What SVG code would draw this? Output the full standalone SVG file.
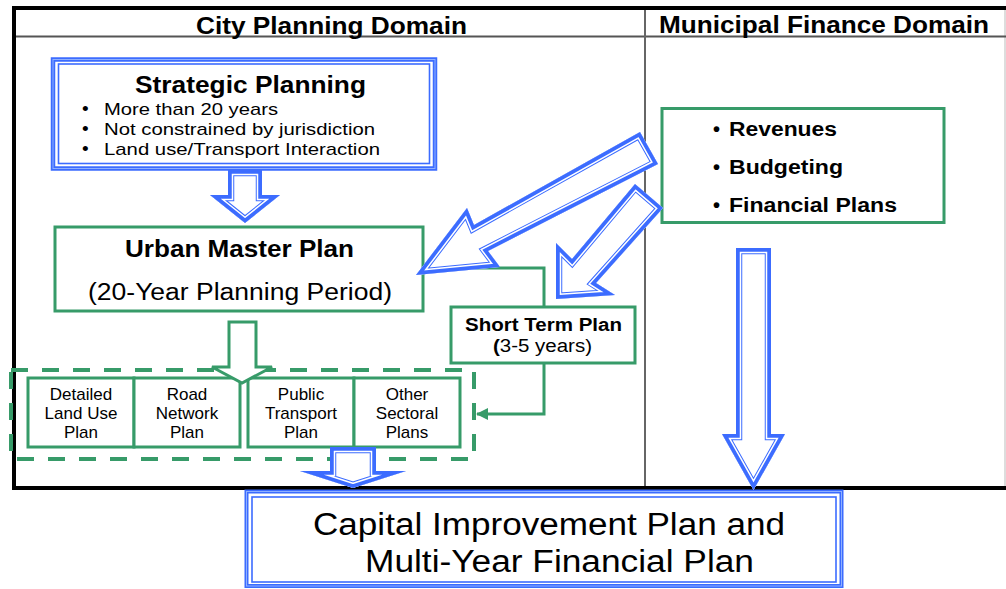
<svg xmlns="http://www.w3.org/2000/svg" xmlns:xlink="http://www.w3.org/1999/xlink" width="1006" height="589" viewBox="0 0 1006 589">
<defs>
<style>
text{font-family:"Liberation Sans",Arial,sans-serif;fill:#000}
.b{font-weight:bold}
.hd{font-size:23px;font-weight:bold}
.g{fill:none;stroke:#379b69;stroke-width:3}
.gw{fill:#fff;stroke:#379b69;stroke-width:3}
.s1{fill:#fff;stroke:#3c6cff;stroke-width:12.5;stroke-linejoin:miter}
.s2{fill:none;stroke:#fff;stroke-width:10.5;stroke-linejoin:miter}
.s3{fill:none;stroke:#3c6cff;stroke-width:7.5;stroke-linejoin:miter}
.sm{font-size:17px;text-anchor:middle}
</style>
<marker id="ga" markerWidth="12" markerHeight="12" refX="11" refY="6" orient="auto" markerUnits="userSpaceOnUse">
<path d="M0,0 L12,6 L0,12 Z" fill="#379b69"/>
</marker>
<polygon id="pA" points="228,170 262,170 262,195 280,195 245,223 210,195 228,195"/>
<polygon id="pC" points="330,447 376,447 376,471 406,471 353,488 300,471 330,471"/>
<polygon id="pD" points="736,248 771,248 771,434 785,434 753.5,490 722,434 736,434"/>
<polygon id="pE" points="416,275 467,208 474,225 640,132 658,164 488,251 500,267"/>
<polygon id="pF" points="556,299 556,243 572,259 635,184 663,208 596,283 615,295"/>
<clipPath id="cA"><use xlink:href="#pA"/></clipPath>
<clipPath id="cC"><use xlink:href="#pC"/></clipPath>
<clipPath id="cD"><use xlink:href="#pD"/></clipPath>
<clipPath id="cE"><use xlink:href="#pE"/></clipPath>
<clipPath id="cF"><use xlink:href="#pF"/></clipPath>
</defs>
<rect width="1006" height="589" fill="#fff"/>

<g id="frame">
<rect x="14" y="8" width="1000" height="480" fill="none" stroke="#000" stroke-width="4"/>
<line x1="1005" y1="10" x2="1005" y2="486" stroke="#bbb" stroke-width="1"/>
<line x1="16" y1="36.5" x2="1006" y2="36.5" stroke="#555" stroke-width="2"/>
<line x1="645" y1="10" x2="645" y2="486" stroke="#666" stroke-width="2"/>
<text class="hd" x="196" y="34" textLength="271" lengthAdjust="spacingAndGlyphs">City Planning Domain</text>
<text class="hd" x="659" y="33" textLength="330" lengthAdjust="spacingAndGlyphs">Municipal Finance Domain</text>
</g>

<g id="strategic">
<rect x="53" y="59.5" width="382" height="109" fill="#fff" stroke="#3c6cff" stroke-width="4.5"/>
<rect x="53" y="59.5" width="382" height="109" fill="none" stroke="#8fb0ff" stroke-width="1"/>
<rect x="58.5" y="64" width="371" height="99.5" fill="none" stroke="#3c6cff" stroke-width="1.6"/>
<text class="b" x="135" y="92.5" font-size="23" textLength="231" lengthAdjust="spacingAndGlyphs">Strategic Planning</text>
<g font-size="17">
<text x="82" y="115" font-size="19">•</text><text x="104" y="115" textLength="174" lengthAdjust="spacingAndGlyphs">More than 20 years</text>
<text x="82" y="135" font-size="19">•</text><text x="104" y="135" textLength="271" lengthAdjust="spacingAndGlyphs">Not constrained by jurisdiction</text>
<text x="82" y="155" font-size="19">•</text><text x="104" y="155" textLength="276" lengthAdjust="spacingAndGlyphs">Land use/Transport Interaction</text>
</g>
</g>

<g id="urban">
<rect class="gw" x="55" y="227" width="368" height="84"/>
<text class="b" x="125" y="257" font-size="24" textLength="229" lengthAdjust="spacingAndGlyphs">Urban Master Plan</text>
<text x="88" y="300" font-size="23" textLength="304" lengthAdjust="spacingAndGlyphs">(20-Year Planning Period)</text>
</g>

<g id="finance">
<rect class="gw" x="662" y="108.5" width="282" height="114"/>
<g class="b" font-size="20">
<text x="713" y="136">•</text><text x="729" y="136" textLength="108" lengthAdjust="spacingAndGlyphs">Revenues</text>
<text x="713" y="174">•</text><text x="729" y="174" textLength="114" lengthAdjust="spacingAndGlyphs">Budgeting</text>
<text x="713" y="212">•</text><text x="729" y="212" textLength="168" lengthAdjust="spacingAndGlyphs">Financial Plans</text>
</g>
</g>

<g id="shortterm">
<rect class="gw" x="451" y="307" width="184" height="56"/>
<text class="b" x="465" y="331" font-size="18" textLength="157" lengthAdjust="spacingAndGlyphs">Short Term Plan</text>
<text x="493" y="352" font-size="18" textLength="99" lengthAdjust="spacingAndGlyphs"><tspan font-weight="bold">(</tspan>3-5 years)</text>
</g>

<g id="sectoral-group">
<rect x="11" y="370" width="463" height="89" fill="none" stroke="#379b69" stroke-width="4" stroke-dasharray="17 14"/>
</g>

<g id="detailed-land-use">
<rect class="gw" x="28" y="378" width="106" height="69"/>
<text class="sm" x="81" y="400">Detailed</text>
<text class="sm" x="81" y="419">Land Use</text>
<text class="sm" x="81" y="438">Plan</text>
</g>
<g id="road-network">
<rect class="gw" x="134" y="378" width="106" height="69"/>
<text class="sm" x="187" y="400">Road</text>
<text class="sm" x="187" y="419">Network</text>
<text class="sm" x="187" y="438">Plan</text>
</g>
<g id="public-transport">
<rect class="gw" x="248" y="378" width="106" height="69"/>
<text class="sm" x="301" y="400">Public</text>
<text class="sm" x="301" y="419">Transport</text>
<text class="sm" x="301" y="438">Plan</text>
</g>
<g id="other-sectoral">
<rect class="gw" x="354" y="378" width="106" height="69"/>
<text class="sm" x="407" y="400">Other</text>
<text class="sm" x="407" y="419">Sectoral</text>
<text class="sm" x="407" y="438">Plans</text>
</g>

<g id="capital">
<rect x="246.5" y="491.5" width="595" height="94.5" fill="#fff" stroke="#3c6cff" stroke-width="4"/>
<rect x="246.5" y="491.5" width="595" height="94.5" fill="none" stroke="#8fb0ff" stroke-width="1"/>
<rect x="252" y="497" width="584" height="85" fill="none" stroke="#3c6cff" stroke-width="1.6"/>
<text x="313" y="535" font-size="31" textLength="472" lengthAdjust="spacingAndGlyphs">Capital Improvement Plan and</text>
<text x="365" y="572" font-size="31" textLength="389" lengthAdjust="spacingAndGlyphs">Multi-Year Financial Plan</text>
</g>

<g id="connectors">
<polyline class="g" points="423,268 544,268 544,307"/>
<polyline class="g" points="544,363 544,414 477,414" marker-end="url(#ga)"/>
<polygon class="gw" stroke-width="2.5" points="229,322 256,322 256,367 272,367 242,383 212,367 229,367"/>
<g clip-path="url(#cA)"><use xlink:href="#pA" class="s1"/><use xlink:href="#pA" class="s2"/><use xlink:href="#pA" class="s3"/></g>
<g clip-path="url(#cC)"><use xlink:href="#pC" class="s1"/><use xlink:href="#pC" class="s2"/><use xlink:href="#pC" class="s3"/></g>
<g clip-path="url(#cD)"><use xlink:href="#pD" class="s1"/><use xlink:href="#pD" class="s2"/><use xlink:href="#pD" class="s3"/></g>
<g clip-path="url(#cE)"><use xlink:href="#pE" class="s1"/><use xlink:href="#pE" class="s2"/><use xlink:href="#pE" class="s3"/></g>
<g clip-path="url(#cF)"><use xlink:href="#pF" class="s1"/><use xlink:href="#pF" class="s2"/><use xlink:href="#pF" class="s3"/></g>
</g>
</svg>
